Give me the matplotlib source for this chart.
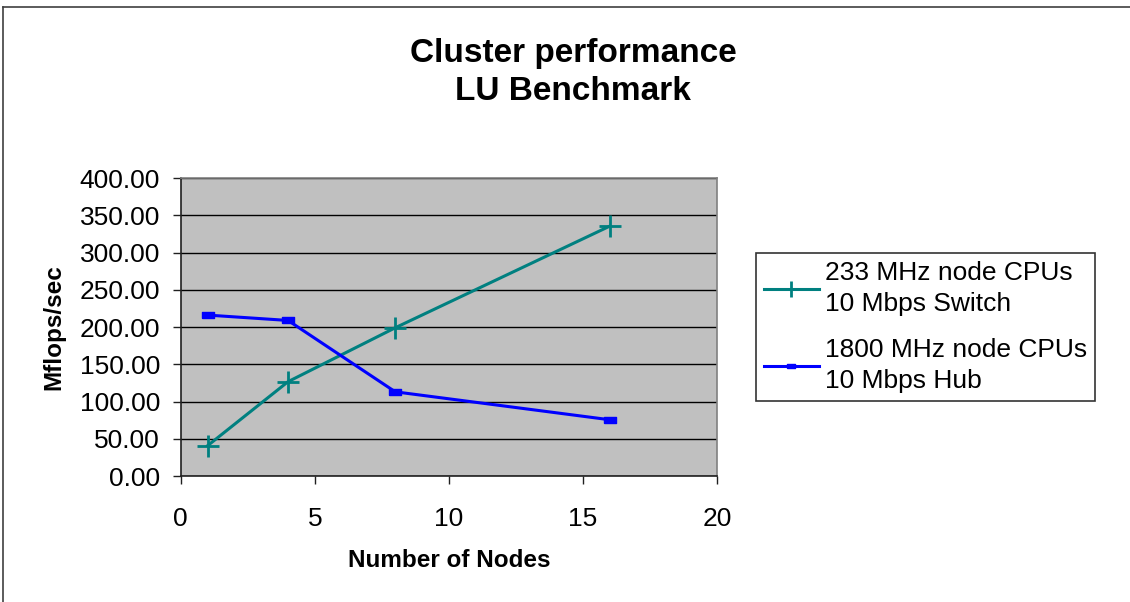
import matplotlib
matplotlib.use("Agg")
import matplotlib.pyplot as plt
from matplotlib.lines import Line2D

# Data
nodes = [1, 4, 8, 16]
mflops_233 = [40.7, 126.6, 199.0, 335.4]
mflops_1800 = [216.0, 208.8, 113.0, 75.5]
label_233 = "233 MHz node CPUs\n10 Mbps Switch"
label_1800 = "1800 MHz node CPUs\n10 Mbps Hub"
yticks = [0, 50, 100, 150, 200, 250, 300, 350, 400]
xticks = [0, 5, 10, 15, 20]

plt.rcParams['font.family'] = ['Liberation Sans', 'DejaVu Sans']

fig = plt.figure(figsize=(11.30, 6.02), dpi=100)
ax = fig.add_axes([0.160, 0.2093, 0.4745, 0.495])

ax.set_facecolor("#C0C0C0")

# outer chart border (only top/left visible in the crop)
fig.add_artist(Line2D([3/1130, 3/1130], [0, 1 - 7/602], transform=fig.transFigure,
                      color="#404040", lw=1.2))
fig.add_artist(Line2D([3/1130, 1], [1 - 7/602, 1 - 7/602], transform=fig.transFigure,
                      color="#404040", lw=1.2))

rect = [(-1, -0.5), (1, -0.5), (1, 0.5), (-1, 0.5), (-1, -0.5)]

ax.plot(nodes, mflops_233, color="#008080", lw=2.2, marker="+", markersize=16,
        markeredgewidth=2, label=label_233, zorder=3)
ax.plot(nodes, mflops_1800, color="#0000FF", lw=2.2, marker=rect, markersize=8,
        label=label_1800, zorder=3)

ax.set_xlim(0, 20)
ax.set_ylim(0, 400)
ax.set_xticks(xticks)
ax.set_yticks(yticks)
ax.set_yticklabels([f"{v:.2f}" for v in yticks])
ax.tick_params(axis="both", labelsize=19, direction="out", length=6, width=1,
               color="#202020")
ax.tick_params(axis="x", pad=16)
ax.tick_params(axis="y", pad=9)
ax.grid(axis="y", color="black", lw=1)
ax.set_axisbelow(True)

for s in ["top", "right"]:
    ax.spines[s].set_color("#808080")
    ax.spines[s].set_linewidth(1.2)
for s in ["left", "bottom"]:
    ax.spines[s].set_color("#202020")
    ax.spines[s].set_linewidth(1.2)

ax.set_xlabel("Number of Nodes", fontsize=17.5, fontweight="bold", labelpad=13)
ax.set_ylabel("Mflops/sec", fontsize=17.5, fontweight="bold", labelpad=10)

fig.text(0.507, 0.88, "Cluster performance\nLU Benchmark", ha="center", va="center",
         fontsize=24, fontweight="bold", linespacing=1.3)

leg = ax.legend(loc="center left", bbox_to_anchor=(1.0728, 0.5), fontsize=19,
                frameon=True, fancybox=False, edgecolor="black", handlelength=2.08,
                handletextpad=0.23, labelspacing=0.85, borderpad=0.3,
                borderaxespad=0, markerscale=0.7)
leg.get_frame().set_linewidth(1.2)
for t in leg.get_texts():
    t.set_linespacing(1.35)

fig.savefig("out.png", dpi=100, facecolor="white")
